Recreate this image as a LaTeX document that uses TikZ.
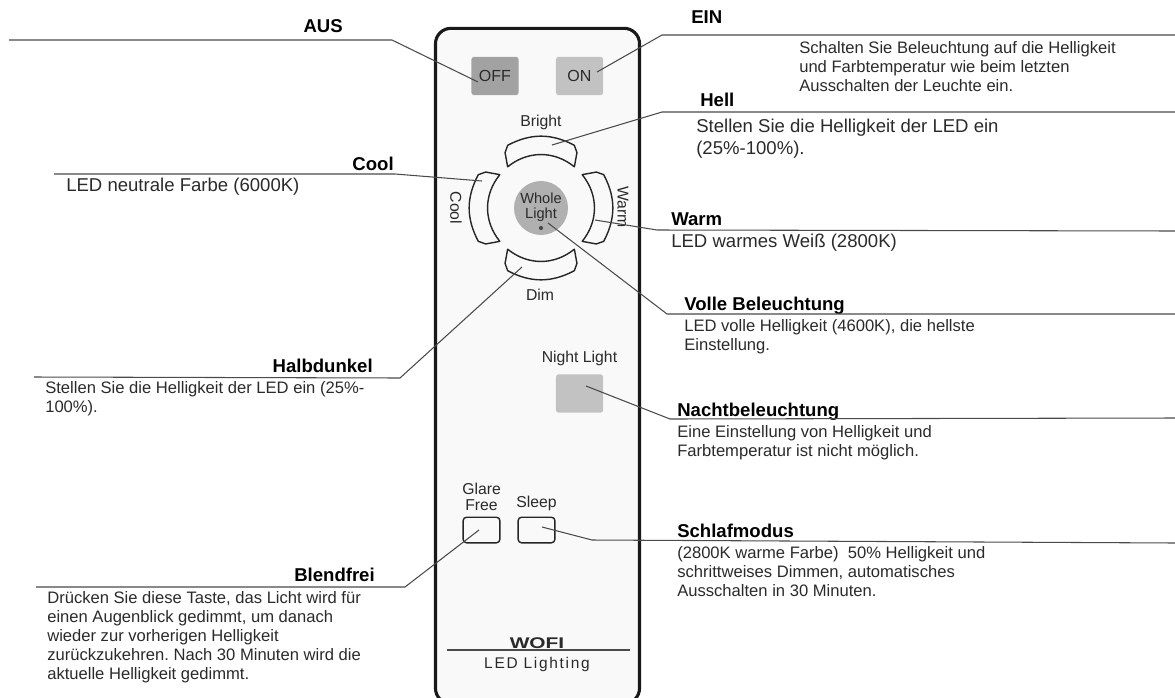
\documentclass[tikz,border=0pt]{standalone}
\usepackage{fontspec}
\setmainfont{Liberation Sans}
\usetikzlibrary{positioning}

\definecolor{inkgray}{HTML}{2A2A2A}
\definecolor{linegray}{HTML}{4A4A4A}
\definecolor{casefill}{HTML}{F9F9F9}
\definecolor{keydark}{HTML}{A2A2A2}
\definecolor{keylight}{HTML}{C2C2C2}
\definecolor{keyround}{HTML}{B0B0B0}

\begin{document}
\frenchspacing
\begin{tikzpicture}[
    x=0.025cm, y=-0.025cm,
    leader/.style={draw=linegray, line width=0.75pt},
    headlabel/.style={inner sep=0pt, anchor=base west, text=black, font=\fontsize{13.2}{15}\selectfont\bfseries},
    headright/.style={headlabel, anchor=base east},
    desctext/.style={inner sep=0pt, anchor=north west, align=left, text=inkgray, font=\fontsize{11.8}{13.5}\selectfont},
    desclarge/.style={desctext, font=\fontsize{13.2}{15.3}\selectfont},
    keylabel/.style={inner sep=0pt, align=center, text=inkgray, font=\fontsize{11.2}{11.6}\selectfont},
    softkey/.style={rectangle, rounded corners=2pt, inner sep=0pt, minimum width=1.18cm, minimum height=0.96cm, text=inkgray, font=\fontsize{11.4}{13}\selectfont},
    linekey/.style={rectangle, draw=black!85, line width=1pt, rounded corners=2.5pt, inner sep=0pt, minimum width=0.92cm, minimum height=0.64cm},
    arckey/.style={draw=black!85, fill=casefill, line width=1pt, line join=round}
  ]
  \useasboundingbox (0,0) rectangle (1175,697);

  % remote control
  \node[draw=black!90, fill=casefill, line width=2.2pt, rounded corners=11pt, inner sep=0pt,
        minimum width=5.1cm, minimum height=16.88cm] (remote) at (537.5,366) {};

  \node[softkey, fill=keydark]  (btnoff)   at (495,76)  {OFF};
  \node[softkey, fill=keylight] (btnon)    at (579.5,76) {ON};
  \node[softkey, fill=keylight] (btnnight) at (579.5,393.5) {};
  \node[linekey] (btnglare) at (481.5,530) {};
  \node[linekey] (btnsleep) at (536.5,530) {};

  % four curved keys round the middle
  \foreach \ang in {0,90,180,270} {
    \begin{scope}[shift={(541,208)}, rotate=\ang]
      \draw[arckey] (129:53) -- (123:66) to[bend right=5] (118:71) to[bend right=28] (62:71)
        to[bend right=5] (57:66) -- (51:53) to[bend left=39] (129:53) -- cycle;
    \end{scope}
  }
  \node[circle, fill=keyround, inner sep=0pt, minimum size=1.35cm] (btnwhole) at (541,208) {};
  \node[keylabel, font=\fontsize{10.4}{11}\selectfont] (lblwhole) at (541,207) {Whole\\Light};
  \node[circle, fill=linegray, inner sep=0pt, minimum size=3pt] (btndot) at (541,228) {};

  \node[keylabel] (lblbright) at (541,122) {Bright};
  \node[keylabel] (lbldim)    at (540,295) {Dim};
  \node[keylabel, rotate=-90] (lblcool) at (456,208) {Cool};
  \node[keylabel, rotate=-90] (lblwarm) at (623,207) {Warm};
  \node[keylabel, above=6pt of btnnight] (lblnight) {Night Light};
  \node[keylabel, above=4pt of btnsleep] (lblsleep) {Sleep};
  \node[keylabel, above=4pt of btnglare] (lblglare) {Glare\\Free};

  % brand
  \node[inner sep=0pt, font=\fontsize{11}{13}\selectfont\bfseries, text=inkgray, xscale=1.35] (brand) at (537,643) {WOFI};
  \coordinate (rulea) at (447,650);
  \coordinate (ruleb) at (630,650);
  \draw[leader] (rulea) -- (ruleb);
  \node[inner sep=0pt, font=\fontsize{11}{13}\selectfont\addfontfeatures{LetterSpace=11}, text=inkgray, below=6pt of brand] (product) {LED Lighting};

  % left texts
  \node[headright] (hdaus)   at (343,32)  {AUS};
  \node[headright] (hdcool)  at (394,170) {Cool};
  \node[desclarge] (txcool)  at (66,178)  {LED neutrale Farbe (6000K)};
  \node[headright] (hdhalb)  at (373,372) {Halbdunkel};
  \node[desctext]  (txhalb)  at (45,381)  {Stellen Sie die Helligkeit der LED ein (25\%-\\100\%).};
  \node[headright] (hdblend) at (375,581) {Blendfrei};
  \node[desctext]  (txblend) at (47,591)  {Drücken Sie diese Taste, das Licht wird für\\einen Augenblick gedimmt, um danach\\wieder zur vorherigen Helligkeit\\zurückzukehren. Nach 30 Minuten wird die\\aktuelle Helligkeit gedimmt.};

  % right texts
  \node[headlabel] (hdein)   at (691,23)  {EIN};
  \node[desctext]  (txein)   at (799,41)  {Schalten Sie Beleuchtung auf die Helligkeit\\und Farbtemperatur wie beim letzten\\Ausschalten der Leuchte ein.};
  \node[headlabel] (hdhell)  at (700,106) {Hell};
  \node[desclarge] (txhell)  at (696,119) {Stellen Sie die Helligkeit der LED ein\\(25\%-100\%).};
  \node[headlabel] (hdwarm)  at (671,225) {Warm};
  \node[desclarge] (txwarm)  at (671,234) {LED warmes Weiß (2800K)};
  \node[headlabel] (hdvoll)  at (684,310) {Volle Beleuchtung};
  \node[desctext]  (txvoll)  at (684,319) {LED volle Helligkeit (4600K), die hellste\\Einstellung.};
  \node[headlabel] (hdnacht) at (677,416) {Nachtbeleuchtung};
  \node[desctext]  (txnacht) at (677,425) {Eine Einstellung von Helligkeit und\\Farbtemperatur ist nicht möglich.};
  \node[headlabel] (hdschl)  at (677,537) {Schlafmodus};
  \node[desctext]  (txschl)  at (677,546) {(2800K warme Farbe)\ \ 50\% Helligkeit und\\schrittweises Dimmen, automatisches\\Ausschalten in 30 Minuten.};

  % leader ends
  \coordinate (ausfree)  at (9,40);    \coordinate (ausknee)  at (392,40);   \coordinate (ausend)  at (478,82);
  \coordinate (coolfree) at (54,174);  \coordinate (coolknee) at (395,174);  \coordinate (coolend) at (482,181);
  \coordinate (halbfree) at (34,377);  \coordinate (halbknee) at (400,378);  \coordinate (halbend) at (522,267);
  \coordinate (blndfree) at (36,587);  \coordinate (blndknee) at (405,587);  \coordinate (blndend) at (479,530);
  \coordinate (einfree)  at (1175,35); \coordinate (einknee)  at (662,35);   \coordinate (einend)  at (597,72);
  \coordinate (hellfree) at (1175,112);\coordinate (hellknee) at (662,112);  \coordinate (hellend) at (552,145);
  \coordinate (warmfree) at (1175,231);\coordinate (warmknee) at (657,230);  \coordinate (warmend) at (595,220);
  \coordinate (vollfree) at (1175,314);\coordinate (vollknee) at (667,314);  \coordinate (vollend) at (548,223);
  \coordinate (nachfree) at (1175,418);\coordinate (nachknee) at (670,419);  \coordinate (nachend) at (586,386);
  \coordinate (schlfree) at (1175,543);\coordinate (schlknee) at (592,540);  \coordinate (schlend) at (542,527);

  % leaders
  \draw[leader] (ausfree)  -- (ausknee)  -- (ausend);
  \draw[leader] (coolfree) -- (coolknee) -- (coolend);
  \draw[leader] (halbfree) -- (halbknee) -- (halbend);
  \draw[leader] (blndfree) -- (blndknee) -- (blndend);
  \draw[leader] (einfree)  -- (einknee)  -- (einend);
  \draw[leader] (hellfree) -- (hellknee) -- (hellend);
  \draw[leader] (warmfree) -- (warmknee) -- (warmend);
  \draw[leader] (vollfree) -- (vollknee) -- (vollend);
  \draw[leader] (nachfree) -- (nachknee) -- (nachend);
  \draw[leader] (schlfree) -- (schlknee) -- (schlend);
\end{tikzpicture}
\end{document}
